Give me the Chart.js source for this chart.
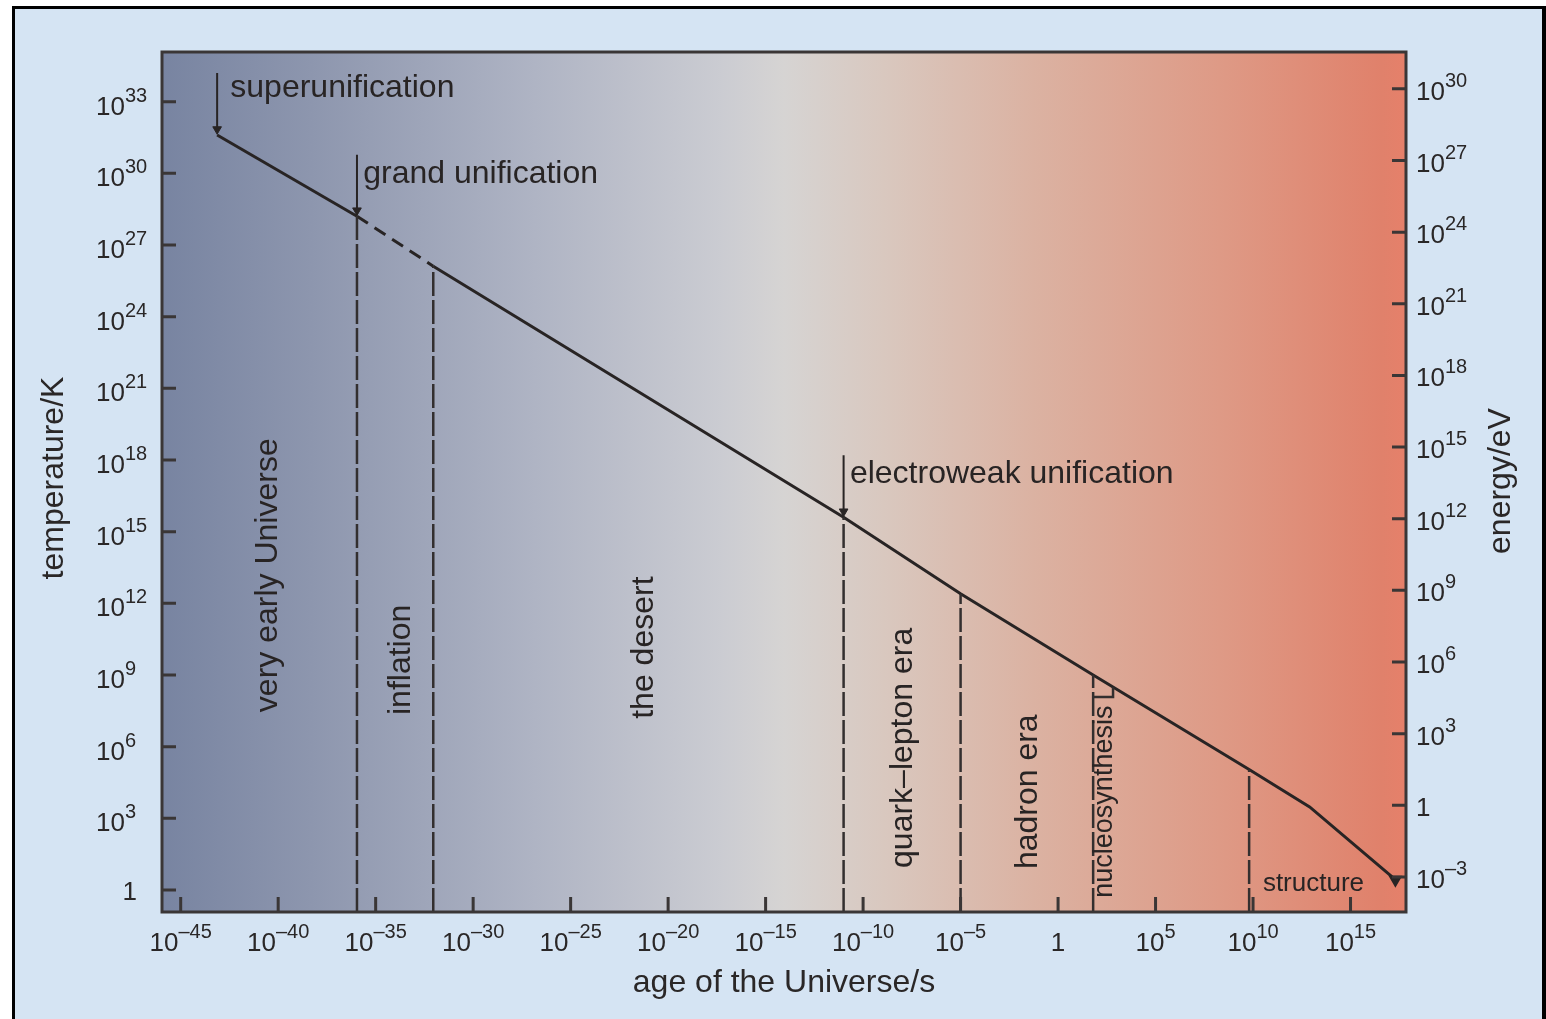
<!DOCTYPE html>
<html>
<head>
<meta charset="utf-8">
<title>Temperature history of the Universe</title>
<script src="https://cdn.jsdelivr.net/npm/chart.js@4.4.1/dist/chart.umd.min.js"></script>
<style>
  html, body { margin: 0; padding: 0; background: #fff; overflow: hidden; }
  #wrap { width: 1546px; height: 1019px; }
</style>
</head>
<body>
<div id="wrap"><canvas id="chart"></canvas></div>
<script>
// ====== Data ======
// temperature history: age of the Universe (s) -> temperature (K)
const curveAge  = [7.4e-44, 1.1e-36, 9e-33, 1e-11, 1e-5, 63, 6.3e9, 8e12, 2e17];
const curveTemp = [4e31, 1.6e28, 1.3e26, 4e15, 2.5e12, 1e9, 1.1e5, 3e3, 2.7];

// era boundaries, drawn dashed from the axis up to the curve
const eraAge = [1.1e-36, 9e-33, 1e-11, 1e-5, 63, 6.3e9];
const eraTop = [1.6e28, 1.3e26, 4e15, 2.5e12, 1e9, 1.1e5];

// unification arrows pointing down onto the curve
const eventNames = ["superunification", "grand unification", "electroweak unification"];
const arrowAge  = [7.4e-44, 1.1e-36, 1e-11];
const arrowFrom = [1.6e34, 6e30, 1.6e18];
const arrowTo   = [7e31, 2.8e28, 7e15];

// nucleosynthesis bracket
const nucleoAge  = [660, 660, 63];
const nucleoTemp = [3.1e8, 1.2e8, 1.2e8];

// era names
const eraNames = ["very early Universe", "inflation", "the desert", "quark\u2013lepton era", "hadron era", "nucleosynthesis"];

// tick labels (powers of ten)
const ageTickExp    = [-45, -40, -35, -30, -25, -20, -15, -10, -5, 0, 5, 10, 15];
const tempTickExp   = [0, 3, 6, 9, 12, 15, 18, 21, 24, 27, 30, 33];
const energyTickExp = [-3, 0, 3, 6, 9, 12, 15, 18, 21, 24, 27, 30];

// axis ranges
const AGE_MIN = 1.1e-46, AGE_MAX = 7e17;
const TEMP_MIN = 0.12, TEMP_MAX = 1.2e35;
const EN_MIN = 3.4e-5, EN_MAX = 3.5e31;

// ====== Styles ======
const FONT = '"Liberation Sans", Arial, Helvetica, sans-serif';
const INK = "#282424";

// text placement (age, temperature) in data units
const textSpots = [
  { text: eventNames[0], t: 3.5e-43, T: 1.5e33, size: 32 },
  { text: eventNames[1], t: 2.3e-36, T: 4e29, size: 32 },
  { text: eventNames[2], t: 2.1e-11, T: 1.1e17, size: 32 },
  { text: eraNames[0], t: 8.9e-41, T: 1.5e13, size: 32, rot: true },
  { text: eraNames[1], t: 5.9e-34, T: 4.3e9, size: 32, rot: true },
  { text: eraNames[2], t: 1.7e-21, T: 1.4e10, size: 32, rot: true },
  { text: eraNames[3], t: 3.2e-8, T: 8.9e5, size: 32, rot: true },
  { text: eraNames[4], t: 0.083, T: 1.3e4, size: 32, rot: true },
  { text: eraNames[5], t: 560, T: 5e3, size: 27, rot: true },
  { text: "structure", t: 3.2e10, T: 0.91, size: 26 }
];

// ====== Helpers ======
function pts(xs, ys) {
  return xs.map((x, i) => ({ x: x, y: ys[i] }));
}

function drawPow(ctx, exp, x, y, align) {
  const base = exp === 0 ? "1" : "10";
  const sup = exp === 0 ? "" : (exp < 0 ? "\u2013" + (-exp) : String(exp));
  ctx.font = "26px " + FONT;
  const wb = ctx.measureText(base).width;
  ctx.font = "20px " + FONT;
  const ws = sup ? ctx.measureText(sup).width : 0;
  const w = wb + ws;
  const x0 = align === "left" ? x : align === "right" ? x - w : x - w / 2;
  ctx.textAlign = "left";
  ctx.textBaseline = "alphabetic";
  ctx.font = "26px " + FONT;
  ctx.fillText(base, x0, y);
  if (sup) {
    ctx.font = "20px " + FONT;
    ctx.fillText(sup, x0 + wb, y - 13);
  }
}

// ====== Background, frame, ticks and texts ======
const decor = {
  id: "decor",
  beforeDraw(chart) {
    const ctx = chart.ctx, a = chart.chartArea;
    ctx.save();
    ctx.fillStyle = "#ffffff";
    ctx.fillRect(0, 0, chart.width, chart.height);
    ctx.fillStyle = "#d5e4f3";
    ctx.fillRect(14, 8, 1530, chart.height);
    ctx.fillStyle = "#000";
    ctx.fillRect(12, 6, 3, chart.height);
    ctx.fillRect(12, 6, 1534, 3);
    ctx.fillRect(1542, 6, 4, chart.height);

    const g = ctx.createLinearGradient(a.left, 0, a.right, 0);
    g.addColorStop(0, "#7884a1");
    g.addColorStop(0.12, "#8d96ae");
    g.addColorStop(0.3, "#afb4c4");
    g.addColorStop(0.45, "#cbccd2");
    g.addColorStop(0.5, "#d6d4d3");
    g.addColorStop(0.58, "#d9c8bf");
    g.addColorStop(0.7, "#dbb2a2");
    g.addColorStop(0.85, "#de9a86");
    g.addColorStop(0.98, "#e0816b");
    g.addColorStop(1, "#e6806a");
    ctx.fillStyle = g;
    ctx.fillRect(a.left, a.top, a.right - a.left, a.bottom - a.top);
    ctx.restore();
  },
  afterDatasetsDraw(chart) {
    const ctx = chart.ctx, a = chart.chartArea;
    const sx = chart.scales.x, sy = chart.scales.y, sy2 = chart.scales.y2;
    ctx.save();

    // frame
    ctx.strokeStyle = "#3a3636";
    ctx.lineWidth = 3;
    ctx.strokeRect(a.left, a.top, a.right - a.left, a.bottom - a.top);

    // inward tick marks + labels
    ctx.fillStyle = "#2a2727";
    ctx.beginPath();
    sx.ticks.forEach((tk, i) => {
      const px = sx.getPixelForValue(tk.value);
      ctx.moveTo(px, a.bottom);
      ctx.lineTo(px, a.bottom - 15);
      drawPow(ctx, ageTickExp[i], px, a.bottom + 39, "center");
    });
    sy.ticks.forEach((tk, i) => {
      const py = sy.getPixelForValue(tk.value);
      ctx.moveTo(a.left, py);
      ctx.lineTo(a.left + 14, py);
      if (tempTickExp[i] === 0) drawPow(ctx, 0, a.left - 25, py + 10, "right");
      else drawPow(ctx, tempTickExp[i], a.left - 66, py + 13, "left");
    });
    sy2.ticks.forEach((tk, i) => {
      const py = sy2.getPixelForValue(tk.value);
      ctx.moveTo(a.right, py);
      ctx.lineTo(a.right - 14, py);
      drawPow(ctx, energyTickExp[i], a.right + 10, py + 11, "left");
    });
    ctx.stroke();

    // axis titles
    ctx.fillStyle = "#2a2727";
    ctx.font = "32px " + FONT;
    ctx.textAlign = "center";
    ctx.textBaseline = "alphabetic";
    ctx.fillText("age of the Universe/s", (a.left + a.right) / 2, a.bottom + 80);
    const midY = (a.top + a.bottom) / 2;
    [["temperature/K", a.left - 99, midY - 4], ["energy/eV", a.right + 104, midY - 1]].forEach(([txt, x, y]) => {
      ctx.save();
      ctx.translate(x, y);
      ctx.rotate(-Math.PI / 2);
      ctx.fillText(txt, 0, 0);
      ctx.restore();
    });

    // labels inside the plot
    ctx.fillStyle = INK;
    textSpots.forEach(s => {
      const x = sx.getPixelForValue(s.t), y = sy.getPixelForValue(s.T);
      ctx.font = s.size + "px " + FONT;
      if (s.rot) {
        ctx.save();
        ctx.translate(x, y);
        ctx.rotate(-Math.PI / 2);
        ctx.textAlign = "center";
        ctx.fillText(s.text, 0, 0);
        ctx.restore();
      } else {
        ctx.textAlign = "left";
        ctx.fillText(s.text, x, y);
      }
    });
    ctx.restore();
  }
};

// ====== Datasets ======
const datasets = [];

eraAge.forEach((t, i) => {
  datasets.push({
    data: pts([t, t], [TEMP_MIN, eraTop[i]]),
    borderColor: "#332f2f",
    borderWidth: 2.5,
    borderDash: [24, 4],
    pointRadius: 0
  });
});

datasets.push({
  data: pts(nucleoAge, nucleoTemp),
  borderColor: "#332f2f",
  borderWidth: 2.5,
  pointRadius: 0
});

arrowAge.forEach((t, i) => {
  datasets.push({
    data: pts([t, t], [arrowFrom[i], arrowTo[i]]),
    borderColor: INK,
    borderWidth: 2,
    pointStyle: "triangle",
    rotation: 180,
    pointRadius: [0, 5],
    pointBackgroundColor: INK,
    pointBorderColor: INK,
    pointBorderWidth: 1
  });
});

datasets.push({
  data: pts(curveAge, curveTemp),
  borderColor: INK,
  borderWidth: 3,
  pointStyle: "triangle",
  rotation: 180,
  pointRadius: curveAge.map((t, i) => (i === curveAge.length - 1 ? 5 : 0)),
  pointBackgroundColor: INK,
  pointBorderColor: INK,
  segment: {
    borderDash: ctx => (ctx.p0DataIndex === 1 ? [13, 8] : undefined)
  }
});

// ====== Chart ======
const setTicks = exps => scale => {
  scale.ticks = exps.map(e => ({ value: Math.pow(10, e) }));
};

new Chart(document.getElementById("chart"), {
  type: "line",
  data: { datasets: datasets },
  plugins: [decor],
  options: {
    responsive: true,
    maintainAspectRatio: false,
    animation: false,
    layout: { padding: { top: 52, left: 0, right: 0, bottom: 0 } },
    plugins: { legend: { display: false }, tooltip: { enabled: false } },
    elements: { line: { tension: 0 } },
    scales: {
      x: {
        type: "logarithmic", position: "bottom", min: AGE_MIN, max: AGE_MAX,
        afterBuildTicks: setTicks(ageTickExp),
        afterFit: s => { s.height = 107; },
        grid: { display: false }, border: { display: false }, ticks: { display: false }
      },
      y: {
        type: "logarithmic", position: "left", min: TEMP_MIN, max: TEMP_MAX,
        afterBuildTicks: setTicks(tempTickExp),
        afterFit: s => { s.width = 162; },
        grid: { display: false }, border: { display: false }, ticks: { display: false }
      },
      y2: {
        type: "logarithmic", position: "right", min: EN_MIN, max: EN_MAX,
        afterBuildTicks: setTicks(energyTickExp),
        afterFit: s => { s.width = 140; },
        grid: { display: false }, border: { display: false }, ticks: { display: false }
      }
    }
  }
});
</script>
</body>
</html>
